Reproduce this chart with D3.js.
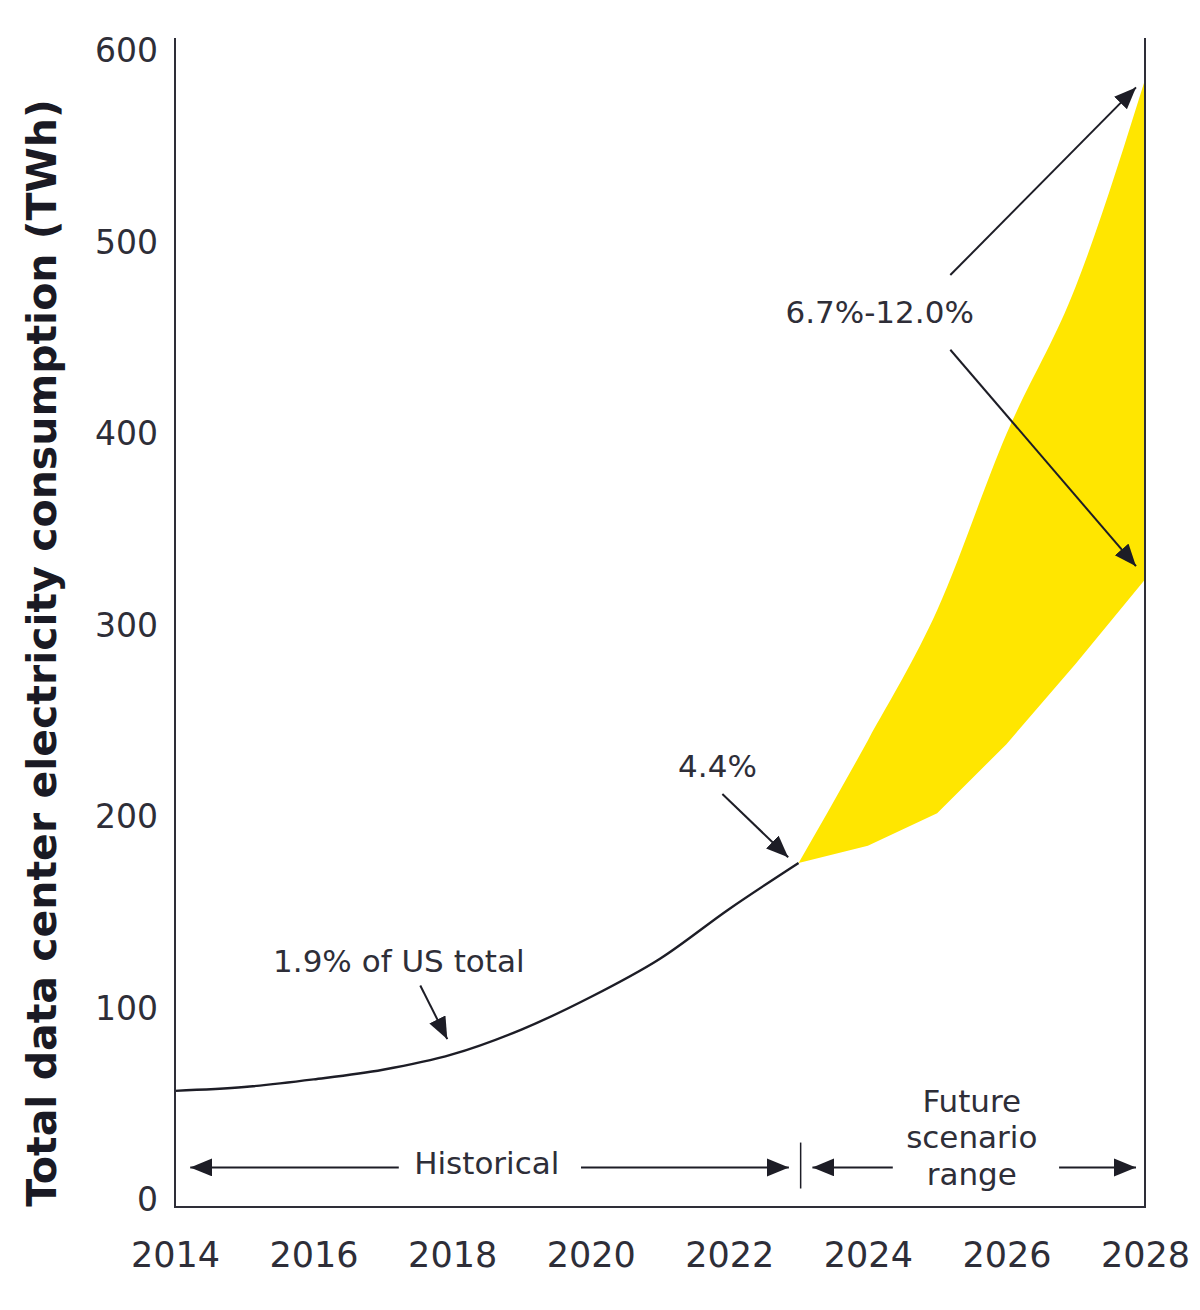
<!DOCTYPE html>
<html>
<head>
<meta charset="utf-8">
<script src="https://cdn.jsdelivr.net/npm/d3@7"></script>
<style>
  body { margin: 0; background: #fff; }
  svg text { font-family: "DejaVu Sans", sans-serif; fill: #2e2e38; }
</style>
</head>
<body>
<svg id="chart" width="1200" height="1310"></svg>
<script>
// historical consumption (TWh)
var histYears = [2014, 2015, 2016, 2017, 2018, 2019, 2020, 2021, 2022, 2023];
var histValues = [57, 59, 63, 68, 76, 89, 106, 126, 152, 176];

// future scenario range (TWh)
var scenYears = [2023, 2024, 2025, 2026, 2027, 2028];
var scenLow = [176, 185, 202, 238, 280, 324];
var scenHigh = [176, 240, 308, 400, 477, 585];

var xTicks = [2014, 2016, 2018, 2020, 2022, 2024, 2026, 2028];
var yTicks = [0, 100, 200, 300, 400, 500, 600];

var svg = d3.select("#chart");
var ink = "#1d1d26";

var x = d3.scaleLinear().domain([2014, 2028]).range([175, 1145]);
var y = d3.scaleLinear().domain([0, 600]).range([1200, 51]);

// arrow head
var defs = svg.append("defs");
defs.append("marker")
  .attr("id", "head")
  .attr("markerUnits", "userSpaceOnUse")
  .attr("markerWidth", 24).attr("markerHeight", 20)
  .attr("refX", 22).attr("refY", 9)
  .attr("orient", "auto-start-reverse")
  .append("path")
  .attr("d", "M0,0 L22,9 L0,18 Z")
  .attr("fill", ink);

// scenario band: smooth upper edge, straight lower edge
var upper = scenYears.map(function(d, i) { return [x(d), y(scenHigh[i])]; });
var lower = scenYears.map(function(d, i) { return [x(d), y(scenLow[i])]; }).reverse();
var bandPath = d3.line().curve(d3.curveMonotoneX)(upper) +
  d3.line()(lower).replace(/^M/, "L") + "Z";
svg.append("path")
  .attr("d", bandPath)
  .attr("fill", "#ffe600");

// historical line
svg.append("path")
  .datum(histYears.map(function(d, i) { return [d, histValues[i]]; }))
  .attr("fill", "none")
  .attr("stroke", ink)
  .attr("stroke-width", 2.4)
  .attr("d", d3.line()
    .curve(d3.curveMonotoneX)
    .x(function(d) { return x(d[0]); })
    .y(function(d) { return y(d[1]); }));

// frame
var frameTop = 38, frameBottom = 1207;
svg.append("path")
  .attr("d", "M" + x(2014) + "," + frameTop + "V" + frameBottom + "H" + x(2028) + "V" + frameTop)
  .attr("fill", "none")
  .attr("stroke", "#2e2e38")
  .attr("stroke-width", 2);

// axes
var xAxis = svg.append("g")
  .attr("transform", "translate(0," + frameBottom + ")")
  .call(d3.axisBottom(x).tickValues(xTicks).tickFormat(d3.format("d")).tickSize(0).tickPadding(35));
var yAxis = svg.append("g")
  .attr("transform", "translate(" + x(2014) + ",0)")
  .call(d3.axisLeft(y).tickValues(yTicks).tickSize(0).tickPadding(17));
xAxis.select(".domain").remove();
yAxis.select(".domain").remove();
xAxis.selectAll("text").attr("font-size", 35);
yAxis.selectAll("text").attr("font-size", 33);
svg.selectAll(".tick text")
  .attr("font-family", "DejaVu Sans, sans-serif")
  .attr("fill", "#2e2e38");

// y title
svg.append("text")
  .attr("transform", "translate(56,653) rotate(-90)")
  .attr("text-anchor", "middle")
  .attr("font-family", "Lato, sans-serif")
  .attr("font-size", 41)
  .attr("font-weight", 900)
  .style("fill", "#1a1a24")
  .text("Total data center electricity consumption (TWh)");

// annotations
function arrow(x1, y1, x2, y2) {
  svg.append("line")
    .attr("x1", x(x1)).attr("y1", y(y1))
    .attr("x2", x(x2)).attr("y2", y(y2))
    .attr("stroke", ink)
    .attr("stroke-width", 2)
    .attr("marker-end", "url(#head)");
}
function label(t, xv, yv) {
  svg.append("text")
    .attr("x", x(xv)).attr("y", y(yv))
    .attr("text-anchor", "middle")
    .attr("font-size", 31)
    .text(t);
}

label("6.7%-12.0%", 2024.17, 458);
arrow(2025.19, 483, 2027.87, 581);
arrow(2025.19, 444, 2027.87, 331);

label("4.4%", 2021.83, 221);
arrow(2021.9, 212, 2022.85, 179);

label("1.9% of US total", 2017.23, 119);
arrow(2017.54, 112, 2017.93, 84);

// period markers along the bottom
var py = 17;
label("Historical", 2018.5, 13.5);
arrow(2017.23, py, 2014.22, py);
arrow(2019.86, py, 2022.86, py);
svg.append("line")
  .attr("x1", x(2023.03)).attr("x2", x(2023.03))
  .attr("y1", y(30)).attr("y2", y(6))
  .attr("stroke", ink).attr("stroke-width", 1.5);
arrow(2024.36, py, 2023.2, py);
arrow(2026.76, py, 2027.87, py);
label("Future", 2025.5, 46);
label("scenario", 2025.5, 27);
label("range", 2025.5, 8);
</script>
</body>
</html>
